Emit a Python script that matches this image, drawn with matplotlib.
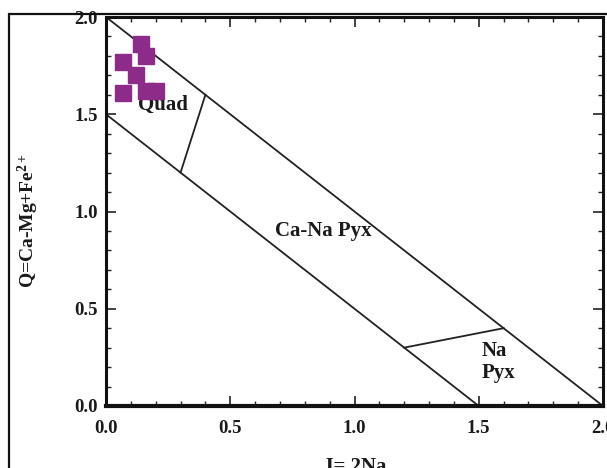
import matplotlib
matplotlib.use("Agg")
import matplotlib.pyplot as plt
from matplotlib.ticker import MultipleLocator
from matplotlib.patches import Rectangle

plt.rcParams['font.family'] = ['Liberation Serif', 'DejaVu Serif']
plt.rcParams['font.weight'] = 'bold'
plt.rcParams['mathtext.fontset'] = 'custom'
plt.rcParams['mathtext.rm'] = 'Liberation Serif:bold'
plt.rcParams['mathtext.bf'] = 'Liberation Serif:bold'
plt.rcParams['mathtext.it'] = 'Liberation Serif:bold'
plt.rcParams['mathtext.default'] = 'bf'

# sample points (J, Q)
J_vals = [0.14, 0.16, 0.07, 0.12, 0.07, 0.16, 0.20]
Q_vals = [1.86, 1.80, 1.77, 1.70, 1.61, 1.62, 1.62]

# field boundaries
upper_line_J = [0.0, 2.0]
upper_line_Q = [2.0, 0.0]
lower_line_J = [0.0, 1.5]
lower_line_Q = [1.5, 0.0]
quad_div_J = [0.3, 0.4]
quad_div_Q = [1.2, 1.6]
na_div_J = [1.2, 1.6]
na_div_Q = [0.3, 0.4]

# field labels
field_labels = ["Quad", "Ca-Na Pyx", "Na\nPyx"]
field_J = [0.229, 0.875, 1.51]
field_Q = [1.55, 0.90, 0.225]
field_ha = ["center", "center", "left"]

xticks = [0.0, 0.5, 1.0, 1.5, 2.0]
yticks = [0.0, 0.5, 1.0, 1.5, 2.0]

W, H = 607, 468
fig = plt.figure(figsize=(W / 100, H / 100), dpi=100)

# outer frame
fig.patches.append(Rectangle((9 / W, -0.1), 1.2, (H - 14) / H + 0.1,
                             transform=fig.transFigure, fill=False,
                             edgecolor='#111111', linewidth=1.6))

ax_l, ax_r, ax_t, ax_b = 106, 603, 17, 406
ax = fig.add_axes([ax_l / W, (H - ax_b) / H, (ax_r - ax_l) / W, (ax_b - ax_t) / H])

line_kw = dict(color='#222222', linewidth=1.3)
ax.plot(upper_line_J, upper_line_Q, **line_kw)
ax.plot(lower_line_J, lower_line_Q, **line_kw)
ax.plot(quad_div_J, quad_div_Q, **line_kw)
ax.plot(na_div_J, na_div_Q, **line_kw)

ax.plot(J_vals, Q_vals, linestyle='none', marker='s', markersize=12,
        markerfacecolor='#8c2b88', markeredgecolor='#8c2b88', zorder=5)

for lab, x, y, ha in zip(field_labels, field_J, field_Q, field_ha):
    ax.text(x, y, lab, ha=ha, va='center', fontsize=15, fontweight='bold',
            color='#1a1a1a', linespacing=1.1)

ax.set_xlim(0, 2)
ax.set_ylim(0, 2)
ax.set_xticks(xticks)
ax.set_yticks(yticks)
ax.set_xticklabels([f"{v:.1f}" for v in xticks])
ax.set_yticklabels([f"{v:.1f}" for v in yticks])
ax.xaxis.set_minor_locator(MultipleLocator(0.1))
ax.yaxis.set_minor_locator(MultipleLocator(0.1))
ax.tick_params(which='both', direction='in', top=True, right=True, color='#222222')
ax.tick_params(which='major', length=7, width=1.2, labelsize=13.5)
ax.tick_params(which='minor', length=3.5, width=1.0)
ax.tick_params(axis='x', which='major', pad=10)
ax.tick_params(axis='y', which='major', pad=6)
for lab in ax.get_xticklabels() + ax.get_yticklabels():
    lab.set_fontweight('bold')
    lab.set_color('#1a1a1a')

for side in ['left', 'bottom', 'top', 'right']:
    ax.spines[side].set_linewidth(2.2)
    ax.spines[side].set_color('#111111')
ax.spines['bottom'].set_linewidth(3.0)

fig.text(28 / W, (H - 221) / H, r"Q=Ca-Mg+Fe$^{2+}$", rotation=90,
         ha='center', va='center', fontsize=14, fontweight='bold', color='#1a1a1a')
fig.text(355 / W, -4 / H, "J= 2Na", ha='center', va='baseline',
         fontsize=15, fontweight='bold', color='#1a1a1a')

fig.savefig("out.png", dpi=100)
